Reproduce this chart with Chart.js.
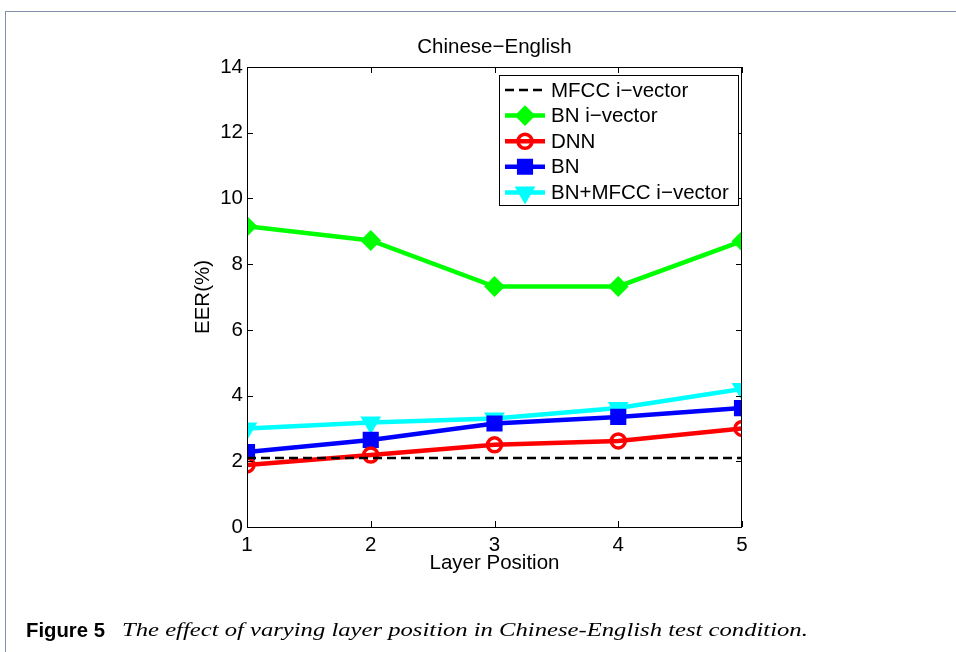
<!DOCTYPE html>
<html>
<head>
<meta charset="utf-8">
<script src="https://cdn.jsdelivr.net/npm/chart.js@4.4.0/dist/chart.umd.min.js"></script>
<style>
  html, body { margin: 0; padding: 0; background: #fff; }
  body { width: 956px; height: 652px; position: relative; overflow: hidden; }
  #frame { position: absolute; left: 5px; top: 11px; width: 960px; height: 700px;
           border-left: 1.5px solid #7f90aa; border-top: 1.5px solid #7f90aa; }
  #chart { position: absolute; left: 0; top: 0; }
  .cap { position: absolute; white-space: nowrap; color: #000; transform-origin: left center; line-height: 1; }
  #capHead { left: 26px; top: 620px; font-family: "Liberation Sans Narrow", "Liberation Sans", sans-serif;
             font-size: 20px; font-weight: bold; }
  #capText { left: 122px; top: 620px; font-family: "Liberation Serif", "DejaVu Serif", serif;
             font-size: 19px; font-style: italic; }
</style>
</head>
<body>
<div id="frame"></div>
<canvas id="chart" width="956" height="652"></canvas>
<div class="cap" id="capHead">Figure 5</div>
<div class="cap" id="capText">The effect of varying layer position in Chinese-English test condition.</div>
<script>
// data
const layerPos = [1, 2, 3, 4, 5];
const mfccIvector = [2.1, 2.1, 2.1, 2.1, 2.1];
const bnIvector = [9.15, 8.72, 7.32, 7.32, 8.7];
const dnn = [1.89, 2.19, 2.5, 2.62, 3.0];
const bn = [2.28, 2.65, 3.15, 3.35, 3.62];
const bnMfcc = [3.0, 3.18, 3.3, 3.62, 4.2];
const yTicks = [0, 2, 4, 6, 8, 10, 12, 14];

const toXY = vals => vals.map((v, i) => ({ x: layerPos[i], y: v }));
const FONT = '"Liberation Sans", Arial, sans-serif';
const FSIZE = 20.5;

const datasets = [
    { label: 'MFCC i\u2212vector', data: toXY(mfccIvector), borderColor: '#000', borderWidth: 2.6,
      borderDash: [9, 5], pointRadius: 0, pointStyle: false, fillMarker: false },
    { label: 'BN i\u2212vector', data: toXY(bnIvector), borderColor: '#00ff00', borderWidth: 4.5,
      pointStyle: 'rectRot', pointRadius: 9, pointBorderWidth: 2, pointBackgroundColor: '#00ff00', fillMarker: true },
    { label: 'DNN', data: toXY(dnn), borderColor: '#ff0000', borderWidth: 4.5,
      pointStyle: 'circle', pointRadius: 7, pointBorderWidth: 3.5, pointBackgroundColor: 'rgba(0,0,0,0)', fillMarker: false },
    { label: 'BN', data: toXY(bn), borderColor: '#0000ff', borderWidth: 4.5,
      pointStyle: 'rect', pointRadius: 10, pointBorderWidth: 2, pointBackgroundColor: '#0000ff', fillMarker: true },
    { label: 'BN+MFCC i\u2212vector', data: toXY(bnMfcc), borderColor: '#00ffff', borderWidth: 4.5,
      pointStyle: 'triangle', rotation: 180, pointRadius: 10, pointBorderWidth: 2, pointBackgroundColor: '#00ffff', fillMarker: true }
];
datasets.forEach(d => { d.pointBorderColor = d.borderColor; d.pointHoverRadius = d.pointRadius; d.tension = 0; });

// box, inward ticks, titles and the legend, matlab style
const matlabFrame = {
    id: 'matlabFrame',
    afterDraw(chart) {
        const ctx = chart.ctx;
        const a = chart.chartArea;
        const xs = chart.scales.x, ys = chart.scales.y;
        ctx.save();
        ctx.strokeStyle = '#000';
        ctx.lineWidth = 1;
        ctx.strokeRect(a.left + 0.5, a.top + 0.5, a.right - a.left - 1, a.bottom - a.top);
        ctx.beginPath();
        yTicks.forEach(t => {
            const py = Math.round(ys.getPixelForValue(t)) + 0.5;
            ctx.moveTo(a.left, py); ctx.lineTo(a.left + 6, py);
            ctx.moveTo(a.right, py); ctx.lineTo(a.right - 6, py);
        });
        layerPos.forEach(t => {
            const px = Math.round(xs.getPixelForValue(t)) + 0.5;
            ctx.moveTo(px, a.bottom); ctx.lineTo(px, a.bottom - 6);
            ctx.moveTo(px, a.top); ctx.lineTo(px, a.top + 6);
        });
        ctx.stroke();

        // titles
        ctx.fillStyle = '#000';
        ctx.font = FSIZE + 'px ' + FONT;
        ctx.textAlign = 'center';
        ctx.textBaseline = 'middle';
        ctx.fillText('Chinese\u2212English', (a.left + a.right) / 2, 47);
        ctx.fillText('Layer Position', (a.left + a.right) / 2, 563);
        ctx.save();
        ctx.translate(203, (a.top + a.bottom) / 2);
        ctx.rotate(-Math.PI / 2);
        ctx.fillText('EER(%)', 0, 0);
        ctx.restore();

        // legend
        const bx = 499, by = 75, bw = 239, bh = 130;
        ctx.fillStyle = '#fff';
        ctx.fillRect(bx, by, bw, bh);
        ctx.strokeRect(bx + 0.5, by + 0.5, bw, bh);
        chart.data.datasets.forEach((d, i) => {
            const ry = 90 + i * 25.6;
            ctx.save();
            ctx.strokeStyle = d.borderColor;
            ctx.lineWidth = d.borderWidth;
            ctx.setLineDash(d.borderDash || []);
            ctx.beginPath();
            ctx.moveTo(505, ry); ctx.lineTo(545, ry);
            ctx.stroke();
            ctx.setLineDash([]);
            if (d.pointStyle) {
                ctx.fillStyle = d.fillMarker ? d.borderColor : 'rgba(0,0,0,0)';
                ctx.lineWidth = d.pointBorderWidth;
                Chart.helpers.drawPoint(ctx, { pointStyle: d.pointStyle, rotation: d.rotation || 0,
                    radius: d.pointRadius, borderWidth: d.pointBorderWidth }, 525, ry);
            }
            ctx.restore();
            ctx.fillStyle = '#000';
            ctx.textAlign = 'left';
            ctx.fillText(d.label, 551, ry + 1);
        });
        ctx.restore();
    }
};

new Chart(document.getElementById('chart'), {
    type: 'line',
    data: { datasets: datasets },
    options: {
        responsive: false,
        animation: false,
        devicePixelRatio: 1,
        layout: { padding: { left: 197, right: 214, top: 67, bottom: 85 } },
        plugins: { legend: { display: false }, title: { display: false }, tooltip: { enabled: false } },
        elements: { line: { borderCapStyle: 'butt' } },
        scales: {
            x: {
                type: 'linear', min: 1, max: 5,
                afterFit: s => { s.height = 40; },
                afterBuildTicks: s => { s.ticks = layerPos.map(v => ({ value: v })); },
                grid: { display: false, drawTicks: false },
                border: { display: false },
                ticks: { color: '#000', padding: 6, font: { family: FONT, size: FSIZE } }
            },
            y: {
                min: 0, max: 14,
                afterFit: s => { s.width = 50; },
                afterBuildTicks: s => { s.ticks = yTicks.map(v => ({ value: v })); },
                grid: { display: false, drawTicks: false },
                border: { display: false },
                ticks: { color: '#000', padding: 4, font: { family: FONT, size: FSIZE } }
            }
        }
    },
    plugins: [matlabFrame]
});

// stretch the caption parts to the widths they have in the figure
function fitWidth(id, target) {
    const el = document.getElementById(id);
    const w = el.getBoundingClientRect().width;
    el.style.transform = 'scaleX(' + (target / w).toFixed(3) + ')';
}
fitWidth('capHead', 79);
fitWidth('capText', 686);
</script>
</body>
</html>
